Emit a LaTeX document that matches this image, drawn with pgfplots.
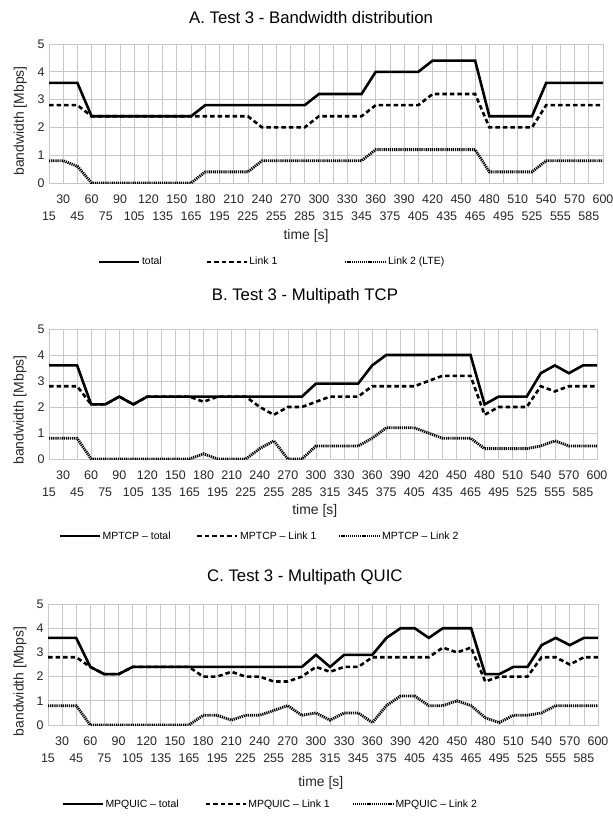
\documentclass[border=0pt]{standalone}
\usepackage{fontspec}
\setmainfont{Liberation Sans}
\usepackage{pgfplots}
\usepackage{pgfplotstable}
\pgfplotsset{compat=1.18}

\pgfplotstableread{
t total l1 l2
15 3.6 2.8 0.8
30 3.6 2.8 0.8
45 3.6 2.8 0.6
60 2.4 2.4 0
75 2.4 2.4 0
90 2.4 2.4 0
105 2.4 2.4 0
120 2.4 2.4 0
135 2.4 2.4 0
150 2.4 2.4 0
165 2.4 2.4 0
180 2.8 2.4 0.4
195 2.8 2.4 0.4
210 2.8 2.4 0.4
225 2.8 2.4 0.4
240 2.8 2.0 0.8
255 2.8 2.0 0.8
270 2.8 2.0 0.8
285 2.8 2.0 0.8
300 3.2 2.4 0.8
315 3.2 2.4 0.8
330 3.2 2.4 0.8
345 3.2 2.4 0.8
360 4.0 2.8 1.2
375 4.0 2.8 1.2
390 4.0 2.8 1.2
405 4.0 2.8 1.2
420 4.4 3.2 1.2
435 4.4 3.2 1.2
450 4.4 3.2 1.2
465 4.4 3.2 1.2
480 2.4 2.0 0.4
495 2.4 2.0 0.4
510 2.4 2.0 0.4
525 2.4 2.0 0.4
540 3.6 2.8 0.8
555 3.6 2.8 0.8
570 3.6 2.8 0.8
585 3.6 2.8 0.8
600 3.6 2.8 0.8
}\dataA

\pgfplotstableread{
t total l1 l2
15 3.6 2.8 0.8
30 3.6 2.8 0.8
45 3.6 2.8 0.8
60 2.1 2.1 0
75 2.1 2.1 0
90 2.4 2.4 0
105 2.1 2.1 0
120 2.4 2.4 0
135 2.4 2.4 0
150 2.4 2.4 0
165 2.4 2.4 0
180 2.4 2.2 0.2
195 2.4 2.4 0
210 2.4 2.4 0
225 2.4 2.4 0
240 2.4 2.0 0.4
255 2.4 1.7 0.7
270 2.4 2.0 0
285 2.4 2.0 0
300 2.9 2.2 0.5
315 2.9 2.4 0.5
330 2.9 2.4 0.5
345 2.9 2.4 0.5
360 3.6 2.8 0.8
375 4.0 2.8 1.2
390 4.0 2.8 1.2
405 4.0 2.8 1.2
420 4.0 3.0 1.0
435 4.0 3.2 0.8
450 4.0 3.2 0.8
465 4.0 3.2 0.8
480 2.1 1.7 0.4
495 2.4 2.0 0.4
510 2.4 2.0 0.4
525 2.4 2.0 0.4
540 3.3 2.8 0.5
555 3.6 2.6 0.7
570 3.3 2.8 0.5
585 3.6 2.8 0.5
600 3.6 2.8 0.5
}\dataB

\pgfplotstableread{
t total l1 l2
15 3.6 2.8 0.8
30 3.6 2.8 0.8
45 3.6 2.8 0.8
60 2.4 2.4 0
75 2.1 2.1 0
90 2.1 2.1 0
105 2.4 2.4 0
120 2.4 2.4 0
135 2.4 2.4 0
150 2.4 2.4 0
165 2.4 2.4 0
180 2.4 2.0 0.4
195 2.4 2.0 0.4
210 2.4 2.2 0.2
225 2.4 2.0 0.4
240 2.4 2.0 0.4
255 2.4 1.8 0.6
270 2.4 1.8 0.8
285 2.4 2.0 0.4
300 2.9 2.4 0.5
315 2.4 2.2 0.2
330 2.9 2.4 0.5
345 2.9 2.4 0.5
360 2.9 2.8 0.1
375 3.6 2.8 0.8
390 4.0 2.8 1.2
405 4.0 2.8 1.2
420 3.6 2.8 0.8
435 4.0 3.2 0.8
450 4.0 3.0 1.0
465 4.0 3.2 0.8
480 2.1 1.8 0.3
495 2.1 2.0 0.1
510 2.4 2.0 0.4
525 2.4 2.0 0.4
540 3.3 2.8 0.5
555 3.6 2.8 0.8
570 3.3 2.5 0.8
585 3.6 2.8 0.8
600 3.6 2.8 0.8
}\dataC

\pgfplotsset{
  panel/.style={
    scale only axis,
    xmin=15, xmax=600, ymin=0, ymax=5,
    xtick={30,60,...,600},
    extra x ticks={15,45,...,585},
    extra x tick style={grid=major, xticklabel style={yshift=-16.5bp}},
    ytick={0,1,2,3,4,5},
    grid=major,
    major grid style={draw=black!22, line width=0.7bp},
    axis line style={draw=black!22, line width=0.7bp},
    major tick length=0pt,
    tick style={draw=none},
    /pgf/number format/assume math mode=true,
    tick label style={font=\fontsize{12.5}{14}\selectfont, text=black!85},
    xticklabel style={yshift=-8.5bp},
    yticklabel style={xshift=-1bp},
    ylabel={bandwidth [Mbps]},
    xlabel={time [s]},
    label style={font=\fontsize{14}{16}\selectfont, text=black!85},
    title style={font=\fontsize{16.8}{19}\selectfont, anchor=center},
    legend columns=3,
    legend style={draw=none, fill=none, anchor=west,
      font=\fontsize{10.5}{12}\selectfont, inner sep=0pt,
      nodes={inner sep=1.5bp}},
    legend image code/.code={\draw[##1] (0bp,0bp) -- (40bp,0bp);},
  },
  ltotal/.style={black, line width=2.6bp},
  llink/.style={black, line width=2.6bp, dash pattern=on 4.5bp off 3bp},
  llte/.style={black, line width=2.8bp, dash pattern=on 1.2bp off 0.9bp},
}

\begin{document}
\begin{tikzpicture}
\path[use as bounding box] (0,0) rectangle (613bp,-818bp);

% Panel A
\begin{axis}[panel,
  at={(49bp,-183bp)}, anchor=south west, width=554bp, height=139bp,
  title={A. Test 3 - Bandwidth distribution},
  title style={at={(axis description cs:0.473,1.144)}},
  ylabel style={at={(axis description cs:-0.052,0.446)}, anchor=center},
  xlabel style={at={(axis description cs:0.464,-0.38)}, anchor=center},
  legend style={at={(axis description cs:0.088,-0.568)},
    /tikz/column 2/.style={column sep=42bp},
    /tikz/column 4/.style={column sep=65bp}},
]
\addplot[ltotal] table[x=t,y=total]{\dataA};
\addplot[llink] table[x=t,y=l1]{\dataA};
\addplot[llte] table[x=t,y=l2]{\dataA};
\legend{total, Link 1, Link 2 (LTE)}
\end{axis}

% Panel B
\begin{axis}[panel,
  at={(49bp,-459bp)}, anchor=south west, width=548bp, height=130bp,
  title={B. Test 3 - Multipath TCP},
  title style={at={(axis description cs:0.467,1.208)}},
  ylabel style={at={(axis description cs:-0.053,0.377)}, anchor=center},
  xlabel style={at={(axis description cs:0.485,-0.40)}, anchor=center},
  legend style={at={(axis description cs:0.017,-0.592)},
    /tikz/column 2/.style={column sep=24bp},
    /tikz/column 4/.style={column sep=20bp}},
]
\addplot[ltotal] table[x=t,y=total]{\dataB};
\addplot[llink] table[x=t,y=l1]{\dataB};
\addplot[llte] table[x=t,y=l2]{\dataB};
\legend{MPTCP -- total, MPTCP -- Link 1, MPTCP -- Link 2}
\end{axis}

% Panel C
\begin{axis}[panel,
  at={(48bp,-725bp)}, anchor=south west, width=550bp, height=121bp,
  title={C. Test 3 - Multipath QUIC},
  title style={at={(axis description cs:0.467,1.174)}},
  ylabel style={at={(axis description cs:-0.051,0.36)}, anchor=center},
  xlabel style={at={(axis description cs:0.496,-0.48)}, anchor=center},
  legend style={at={(axis description cs:0.024,-0.653)},
    /tikz/column 2/.style={column sep=24bp},
    /tikz/column 4/.style={column sep=20bp}},
]
\addplot[ltotal] table[x=t,y=total]{\dataC};
\addplot[llink] table[x=t,y=l1]{\dataC};
\addplot[llte] table[x=t,y=l2]{\dataC};
\legend{MPQUIC -- total, MPQUIC -- Link 1, MPQUIC -- Link 2}
\end{axis}
\end{tikzpicture}
\end{document}
